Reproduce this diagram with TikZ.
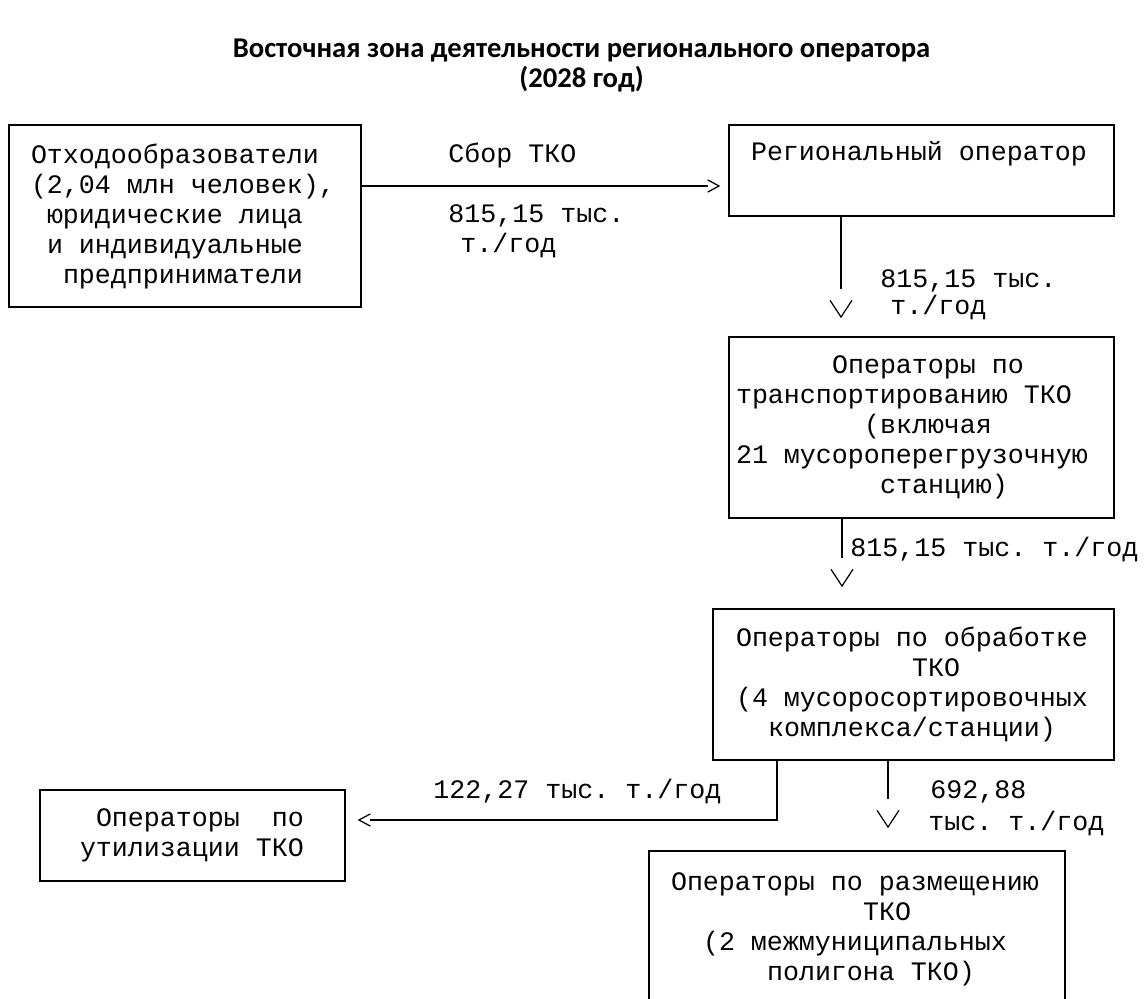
\documentclass[tikz,border=0pt]{standalone}
\usepackage{fontspec}
\setmonofont{Liberation Mono}
\newfontfamily\headfont{Carlito}
\usetikzlibrary{positioning,arrows.meta}

\newlength{\cwd}
\setlength{\cwd}{9.106pt}
\newcommand{\indcol}[1]{\hspace*{#1\cwd}}
\newcommand{\mono}{\ttfamily\fontsize{15.17pt}{17.07pt}\selectfont
  \fontdimen2\font=\cwd\fontdimen3\font=0pt\fontdimen4\font=0pt
  \spaceskip=\cwd\xspaceskip=\cwd}

% open chevron tip, the line stops `inset' before its back
\newdimen\chevback
\pgfdeclarearrow{
  name=Chevron,
  parameters={\the\pgfarrowlength,\the\pgfarrowwidth,\the\pgfarrowinset},
  setup code={
    \chevback=\pgfarrowlength
    \advance\chevback by \pgfarrowinset
    \pgfarrowssettipend{0pt}
    \pgfarrowssetbackend{-\chevback}
    \pgfarrowssetlineend{-\chevback}
    \pgfarrowsupperhullpoint{-\pgfarrowlength}{.5\pgfarrowwidth}
    \pgfarrowsupperhullpoint{0pt}{0pt}
    \pgfarrowssavethe\pgfarrowlength
    \pgfarrowssavethe\pgfarrowwidth
  },
  drawing code={
    \pgfsetdash{}{0pt}
    \pgfsetlinewidth{0.7pt}
    \pgfsetmiterjoin
    \pgfpathmoveto{\pgfqpoint{-\pgfarrowlength}{.5\pgfarrowwidth}}
    \pgfpathlineto{\pgfqpoint{0pt}{0pt}}
    \pgfpathlineto{\pgfqpoint{-\pgfarrowlength}{-.5\pgfarrowwidth}}
    \pgfusepathqstroke
  },
  defaults={length=9pt,width=11pt,inset=6.5pt}
}

\tikzset{
  hbarb/.tip={Chevron[length=6.5pt,width=7pt,inset=0pt]},
  vbarb/.tip={Chevron[length=9.5pt,width=12.5pt,inset=6.5pt]}
}

\begin{document}
\begin{tikzpicture}[on grid,
    box/.style={draw,line width=1.1pt,rectangle,font=\mono,align=flush left,inner ysep=0pt},
    flow/.style={line width=1.1pt},
    lbl/.style={font=\mono,inner sep=0pt,anchor=base west}]
  \useasboundingbox (0,0) rectangle (22.94,-19.98);
  \clip (0,0) rectangle (22.94,-19.98);

  \node[font=\headfont\bfseries\fontsize{16.3pt}{17.07pt}\selectfont,align=center] (title)
    at (11.63,-1.32) {Восточная зона деятельности регионального оператора\\(2028 год)};

  % boxes
  \node[box,text width=6.16cm,inner xsep=0.44cm,minimum height=3.64cm] (src) at (3.70,-4.32)
    {Отходообразователи\\(2,04 млн человек),\\\indcol{1}юридические лица\\\indcol{1}и индивидуальные\\\indcol{2}предприниматели};
  \node[box,text width=6.82cm,inner xsep=0.44cm,minimum height=1.82cm] (reg)
    [above right=0.91cm and 14.73cm of src] {Региональный~оператор\\\strut};
  \node[box,text width=7.42cm,inner xsep=0.14cm,minimum height=3.62cm] (trans)
    [below=5.14cm of reg]
    {\indcol{6}Операторы по\\транспортированию ТКО\\\indcol{8}(включая\\21~мусороперегрузочную\\\indcol{9}станцию)};
  \node[box,text width=7.10cm,inner xsep=0.46cm,minimum height=3.02cm] (proc)
    [below left=5.14cm and 0.16cm of trans]
    {Операторы~по~обработке\\\indcol{11}ТКО\\(4~мусоросортировочных\\\indcol{2}комплекса/станции)};
  \node[box,text width=4.5cm,inner xsep=0.8cm,minimum height=1.82cm] (util)
    [below left=3.02cm and 14.42cm of proc] {\indcol{1}Операторы~~по\\утилизации~ТКО};
  \node[box,text width=7.44cm,inner xsep=0.44cm,minimum height=3.12cm] (land)
    [below left=4.89cm and 1.13cm of proc]
    {Операторы~по~размещению\\\indcol{12}ТКО\\\indcol{2}(2 межмуниципальных\\\indcol{6}полигона ТКО)};

  % flows
  \draw[flow,-{hbarb},shorten >=0.18cm] ([yshift=0.6cm]src.east) -- ([yshift=0.6cm]src.east -| reg.west);
  \draw[flow,-{vbarb},shorten >=0.38cm] ([xshift=-1.61cm]reg.south) -- ([xshift=-1.61cm]reg.south |- trans.north);
  \draw[flow,-{vbarb},shorten >=0.44cm] ([xshift=-1.59cm]trans.south) -- ([xshift=-1.59cm]trans.south |- proc.north);
  \draw[flow,-{hbarb},shorten >=0.26cm] ([xshift=-2.73cm]proc.south) |- ([yshift=0.31cm]util.east);
  \draw[flow,-{vbarb},shorten >=0.46cm] ([xshift=-0.51cm]proc.south) -- ([xshift=-0.51cm]proc.south |- land.north);

  % amounts
  \node[lbl] (sbor) at (8.96,-3.26) {Сбор ТКО};
  \node[lbl] (m1a) at (8.96,-4.46) {815,15 тыс.};
  \node[lbl] (m1b) at (9.20,-5.06) {т./год};
  \node[lbl] (m2a) at (17.60,-5.76) {815,15 тыс.};
  \node[lbl] (m2b) at (17.80,-6.30) {т./год};
  \node[lbl] (m3) at (17.00,-11.12) {815,15 тыс. т./год};
  \node[lbl] (m4) at (8.66,-15.96) {122,27 тыс. т./год};
  \node[lbl] (m5a) at (18.60,-15.96) {692,88};
  \node[lbl] (m5b) at (18.56,-16.60) {тыс. т./год};
\end{tikzpicture}
\end{document}
